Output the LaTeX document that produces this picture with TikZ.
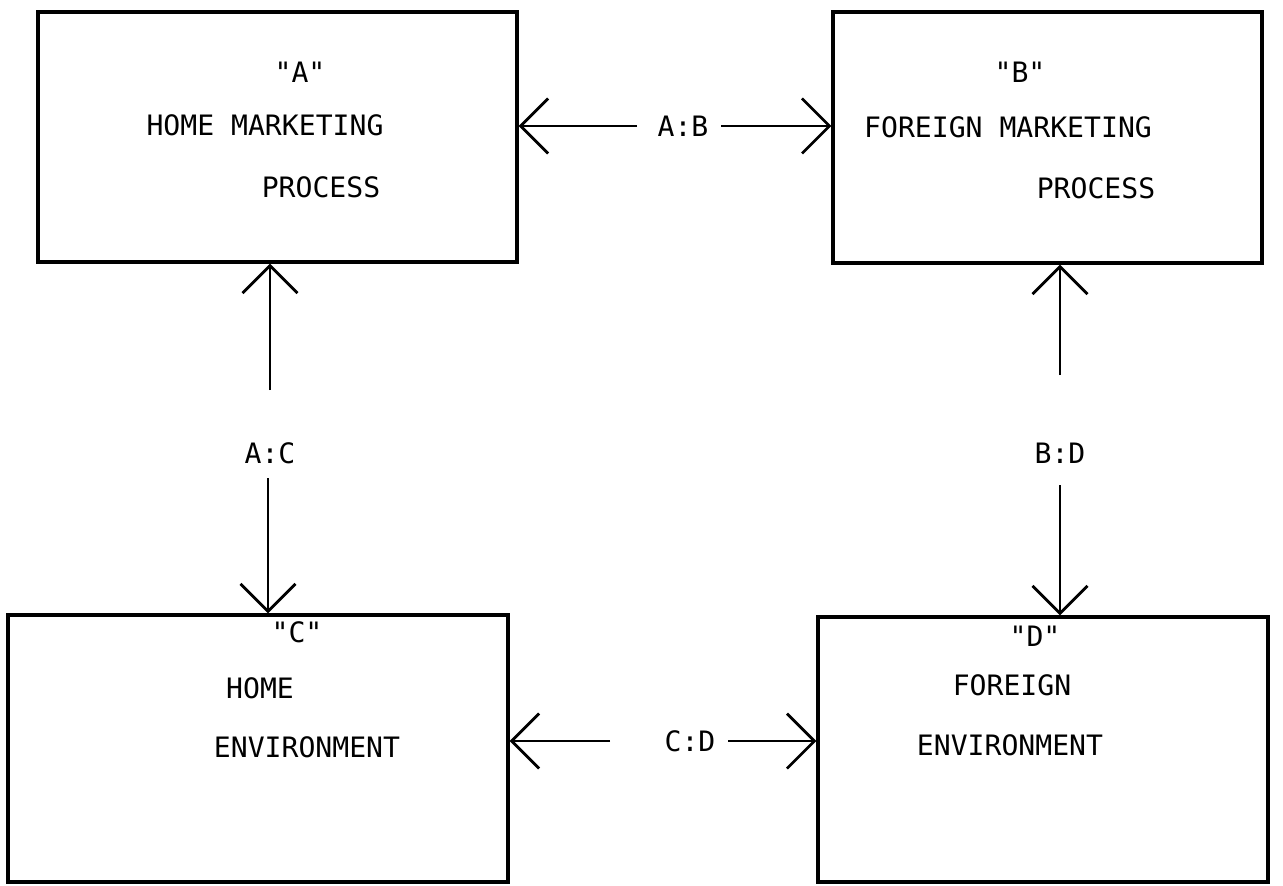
\documentclass[tikz,border=0pt]{standalone}
\usepackage{fontspec}
\setmonofont{DejaVu Sans Mono}
\usepackage{tikz}
\usetikzlibrary{arrows.meta, positioning, calc}

\begin{document}
\begin{tikzpicture}[
    x=0.02cm, y=-0.02cm,
    box/.style={rectangle, draw, line width=1.8pt, inner sep=0pt},
    txt/.style={font=\ttfamily\fontsize{16}{19}\selectfont, inner sep=0pt},
    lbl/.style={font=\ttfamily\fontsize{16}{19}\selectfont, inner sep=7pt},
    arr/.style={-{Straight Barb[length=5.5mm, width=11mm, line width=1.6pt]}, line width=1.4pt},
]
\useasboundingbox (0,0) rectangle (1283,885);

% boxes
\node[box, minimum width=9.58cm, minimum height=5cm] (A) at (277.5,137) {};
\node[box, minimum width=8.58cm, minimum height=5.02cm] (B) at (1047.5,137.5) {};
\node[box, minimum width=10cm, minimum height=5.34cm] (C) at (258,748.5) {};
\node[box, minimum width=9cm, minimum height=5.3cm] (D) at (1043,749.5) {};

% box texts
\node[txt] (a1) at (300,72) {"A"};
\node[txt] (a2) at (265,125) {HOME MARKETING};
\node[txt] (a3) at (321,187) {PROCESS};
\node[txt] (b1) at (1020,72) {"B"};
\node[txt] (b2) at (1008,127) {FOREIGN MARKETING};
\node[txt] (b3) at (1096,188) {PROCESS};
\node[txt] (c1) at (297,632) {"C"};
\node[txt] (c2) at (260,688) {HOME};
\node[txt] (c3) at (307,747) {ENVIRONMENT};
\node[txt] (d1) at (1035,636) {"D"};
\node[txt] (d2) at (1012,685) {FOREIGN};
\node[txt] (d3) at (1010,745) {ENVIRONMENT};

% links
\node[lbl] (ab) at (683,126) {A:B};
\node[lbl] (ac) at (270,453) {A:C};
\node[lbl] (bd) at (1060,453) {B:D};
\node[lbl] (cd) at (690,741) {C:D};

\coordinate (ab-l) at (637,126);
\coordinate (ac-up) at (270,390);
\coordinate (ac-dn) at (268,478);
\coordinate (bd-up) at (1060,375);
\coordinate (bd-dn) at (1060,485);
\coordinate (cd-l) at (610,741);

\draw[arr] (ab-l) -- (ab-l -| A.east);
\draw[arr] (ab.east) -- (ab.east -| B.west);
\draw[arr] (ac-up) -- (ac-up |- A.south);
\draw[arr] (ac-dn) -- (ac-dn |- C.north);
\draw[arr] (bd-up) -- (bd-up |- B.south);
\draw[arr] (bd-dn) -- (bd-dn |- D.north);
\draw[arr] (cd-l) -- (cd-l -| C.east);
\draw[arr] (cd.east) -- (cd.east -| D.west);
\end{tikzpicture}
\end{document}
